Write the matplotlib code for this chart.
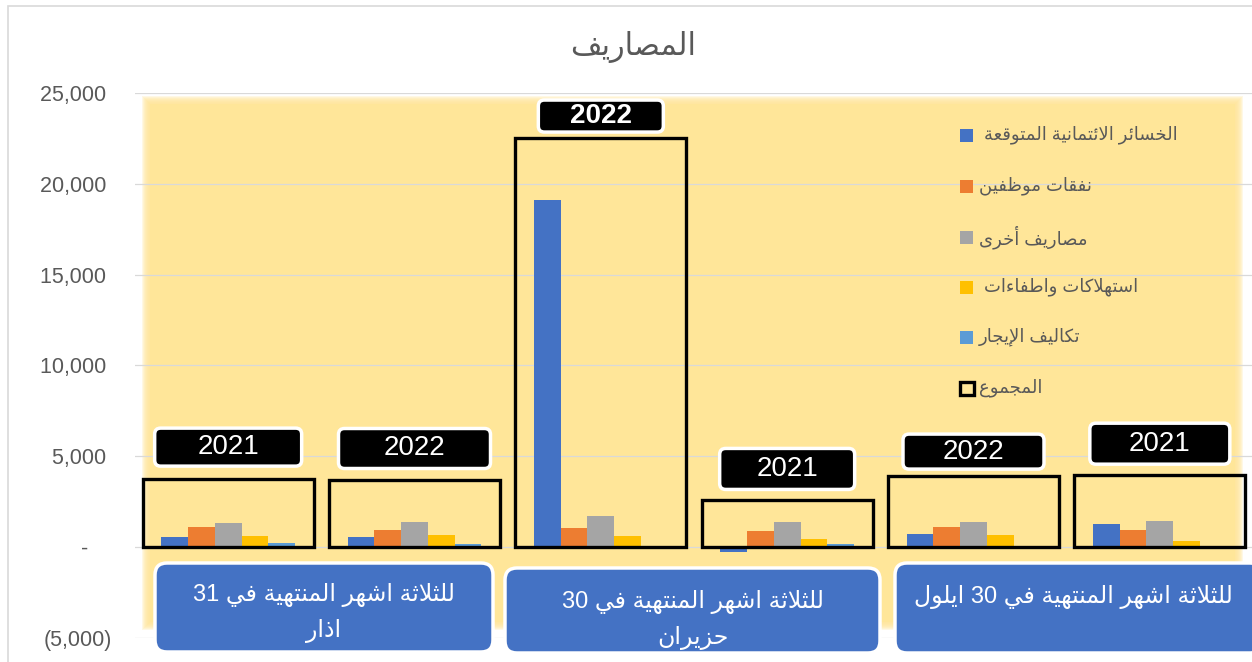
import re
import matplotlib
matplotlib.use("Agg")
import matplotlib.pyplot as plt
from matplotlib.patches import Rectangle, FancyBboxPatch
from matplotlib.transforms import IdentityTransform

# ---------------- data ----------------
title = "المصاريف"
years = ["2021", "2022", "2022", "2021", "2022", "2021"]
periods = ["للثلاثة اشهر المنتهية في 31\nاذار",
           "للثلاثة اشهر المنتهية في 30\nحزيران",
           "للثلاثة اشهر المنتهية في 30 ايلول"]
series_names = ["الخسائر الائتمانية المتوقعة ", "نفقات موظفين", "مصاريف أخرى",
                "استهلاكات واطفاءات ", "تكاليف الإيجار"]
total_name = "المجموع"
credit_losses = [535, 535, 19108, -260, 716, 1250]
staff_costs = [1085, 935, 1063, 900, 1120, 918]
other_expenses = [1305, 1375, 1725, 1360, 1377, 1432]
depreciation = [605, 660, 624, 457, 643, 330]
lease_costs = [220, 165, 0, 165, 0, 0]
totals = [3745, 3670, 22520, 2600, 3940, 3990]
yticks = [-5000, 0, 5000, 10000, 15000, 20000, 25000]

series_values = [credit_losses, staff_costs, other_expenses, depreciation, lease_costs]
colors = ["#4472C4", "#ED7D31", "#A5A5A5", "#FFC000", "#5B9BD5"]

# ---------------- minimal Arabic shaping + RTL ----------------
DUAL = {'\u0626': 0xFE89, '\u0628': 0xFE8F, '\u062A': 0xFE95, '\u062B': 0xFE99,
        '\u062C': 0xFE9D, '\u062D': 0xFEA1, '\u062E': 0xFEA5, '\u0633': 0xFEB1,
        '\u0634': 0xFEB5, '\u0635': 0xFEB9, '\u0636': 0xFEBD, '\u0637': 0xFEC1,
        '\u0638': 0xFEC5, '\u0639': 0xFEC9, '\u063A': 0xFECD, '\u0641': 0xFED1,
        '\u0642': 0xFED5, '\u0643': 0xFED9, '\u0644': 0xFEDD, '\u0645': 0xFEE1,
        '\u0646': 0xFEE5, '\u0647': 0xFEE9, '\u064A': 0xFEF1}
RIGHT = {'\u0622': 0xFE81, '\u0623': 0xFE83, '\u0624': 0xFE85, '\u0625': 0xFE87,
         '\u0627': 0xFE8D, '\u0629': 0xFE93, '\u062F': 0xFEA9, '\u0630': 0xFEAB,
         '\u0631': 0xFEAD, '\u0632': 0xFEAF, '\u0648': 0xFEED, '\u0649': 0xFEEF}
NONJ = {'\u0621': 0xFE80}
LAMALEF = {'\u0622': 0xFEF5, '\u0623': 0xFEF7, '\u0625': 0xFEF9, '\u0627': 0xFEFB}


def shape_ar(s):
    out, i, n = [], 0, len(s)
    while i < n:
        c = s[i]
        pj = i > 0 and s[i - 1] in DUAL
        if c == '\u0644' and i + 1 < n and s[i + 1] in LAMALEF:
            out.append(chr(LAMALEF[s[i + 1]] + (1 if pj else 0)))
            i += 2
            continue
        nxt = s[i + 1] if i + 1 < n else ''
        if c in DUAL:
            nj = nxt in DUAL or nxt in RIGHT
            off = 3 if (pj and nj) else 1 if pj else 2 if nj else 0
            out.append(chr(DUAL[c] + off))
        elif c in RIGHT:
            out.append(chr(RIGHT[c] + (1 if pj else 0)))
        elif c in NONJ:
            out.append(chr(NONJ[c]))
        else:
            out.append(c)
        i += 1
    return ''.join(out)


def rtl(s):
    lines = []
    for line in s.split("\n"):
        toks = re.findall(r"[0-9,]+|.", shape_ar(line))
        lines.append(''.join(reversed(toks)))
    return "\n".join(lines)


FAM = ["Liberation Sans", "DejaVu Sans"]
GREY = "#595959"

# ---------------- figure ----------------
W, H = 1252, 662
fig = plt.figure(figsize=(W / 100, H / 100), dpi=100)
fig.patch.set_facecolor("white")


def disp(x, y):  # top-left pixel coords -> display coords
    return x, H - y


# chart border (top + left)
fig.add_artist(Rectangle(disp(8, 6 + 800), 1400, 800, transform=IdentityTransform(),
                         fill=False, edgecolor="#D9D9D9", lw=1.2, zorder=-3))

# yellow soft background
yl, yt, yr, yb = 142, 96, 1243, 630
for k in range(8):
    e = k * 1.0
    fig.add_artist(Rectangle(disp(yl + e, yb - e), (yr - yl) - 2 * e, (yb - yt) - 2 * e,
                             transform=IdentityTransform(), facecolor="#FFE699",
                             edgecolor="none", alpha=0.25, zorder=-2))
fig.add_artist(Rectangle(disp(yl + 8, yb - 8), (yr - yl) - 16, (yb - yt) - 16,
                         transform=IdentityTransform(), facecolor="#FFE699",
                         edgecolor="none", zorder=-2))

ax = fig.add_axes([135 / W, 1 - 638 / H, (1253 - 135) / W, 545 / H])
ax.patch.set_alpha(0)
n = len(totals)
x = list(range(n))
bw = 0.1435
for k, (vals, col) in enumerate(zip(series_values, colors)):
    ax.bar([xi + (k - 2) * bw for xi in x], vals, width=bw, color=col, zorder=3)
ax.bar(x, totals, width=0.917, fill=False, edgecolor="black", lw=2.4, zorder=4)

ax.set_xlim(-0.5, n - 0.5)
ax.set_ylim(-5000, 25000)
ax.set_yticks(yticks)


def fmt(v):
    if v > 0:
        return f"{v:,} "
    if v < 0:
        return f"({-v:,})"
    return "-    "


ax.set_yticklabels([fmt(v) for v in yticks])
ax.set_xticks([])
ax.tick_params(axis="y", length=0, pad=16.5, labelsize=15.5, labelcolor=GREY)
for lab in ax.get_yticklabels():
    lab.set_fontfamily(FAM)
for s in ax.spines.values():
    s.set_visible(False)
ax.yaxis.grid(True, color="#D9D9D9", lw=0.9)
ax.set_axisbelow(True)

# title
fig.text(633 / W, 1 - 47 / H, rtl(title), ha="center", va="center",
         fontsize=22, color=GREY, family=FAM)

# year labels above totals (offset in px, box size in px)
lab_off = [32, 32, 22, 31, 24, 31]
lab_w = [147, 152, 125, 135, 141, 140]
lab_h = [38, 40, 32, 41, 35, 41]
lab_bold = [False, False, True, False, False, False]
fig.canvas.draw()
for i in range(n):
    px, py = ax.transData.transform((x[i], totals[i]))
    cy = py + lab_off[i]
    w, h = lab_w[i], lab_h[i]
    fig.add_artist(FancyBboxPatch((px - w / 2, cy - h / 2), w, h,
                                  boxstyle="round,pad=0,rounding_size=6",
                                  transform=IdentityTransform(), facecolor="black",
                                  edgecolor="white", lw=2.5, zorder=6))
    fig.text(px / W, cy / H, years[i], ha="center", va="center", color="white",
             fontsize=20, family=FAM, fontweight="bold" if lab_bold[i] else "normal",
             zorder=7)

# period boxes (pixel layout: left, top, right, bottom, text top y)
pboxes = [(155, 563, 493, 652, 583), (505, 568, 880, 653, 590), (895, 563, 1262, 653, 585)]
for (l, t, r, b, ty), txt in zip(pboxes, periods):
    fig.add_artist(FancyBboxPatch(disp(l, b), r - l, b - t,
                                  boxstyle="round,pad=0,rounding_size=12",
                                  transform=IdentityTransform(), facecolor="#4472C4",
                                  edgecolor="white", lw=2.5, zorder=6))
    cx = (l + min(r, 1252)) / 2
    fig.text(cx / W, 1 - ty / H, rtl(txt), ha="center", va="top", color="white",
             fontsize=17, family=FAM, linespacing=1.65, zorder=7)

# legend (manual)
leg_y = [135, 186, 237, 287, 337, 388]
for i, (name, col) in enumerate(zip(series_names, colors)):
    cy = leg_y[i]
    fig.add_artist(Rectangle(disp(960, cy + 6.5), 13, 13, transform=IdentityTransform(),
                             facecolor=col, edgecolor="none", zorder=6))
    fig.text(979 / W, 1 - cy / H, rtl(name), ha="left", va="center", fontsize=13,
             color=GREY, family=FAM, zorder=7)
cy = leg_y[5]
fig.add_artist(Rectangle(disp(959.5, cy + 6.5), 14, 13, transform=IdentityTransform(),
                         facecolor="#FFE699", edgecolor="black", lw=2.4, zorder=6))
fig.text(979 / W, 1 - cy / H, rtl(total_name), ha="left", va="center", fontsize=13,
         color=GREY, family=FAM, zorder=7)

fig.savefig("out.png", dpi=100)
